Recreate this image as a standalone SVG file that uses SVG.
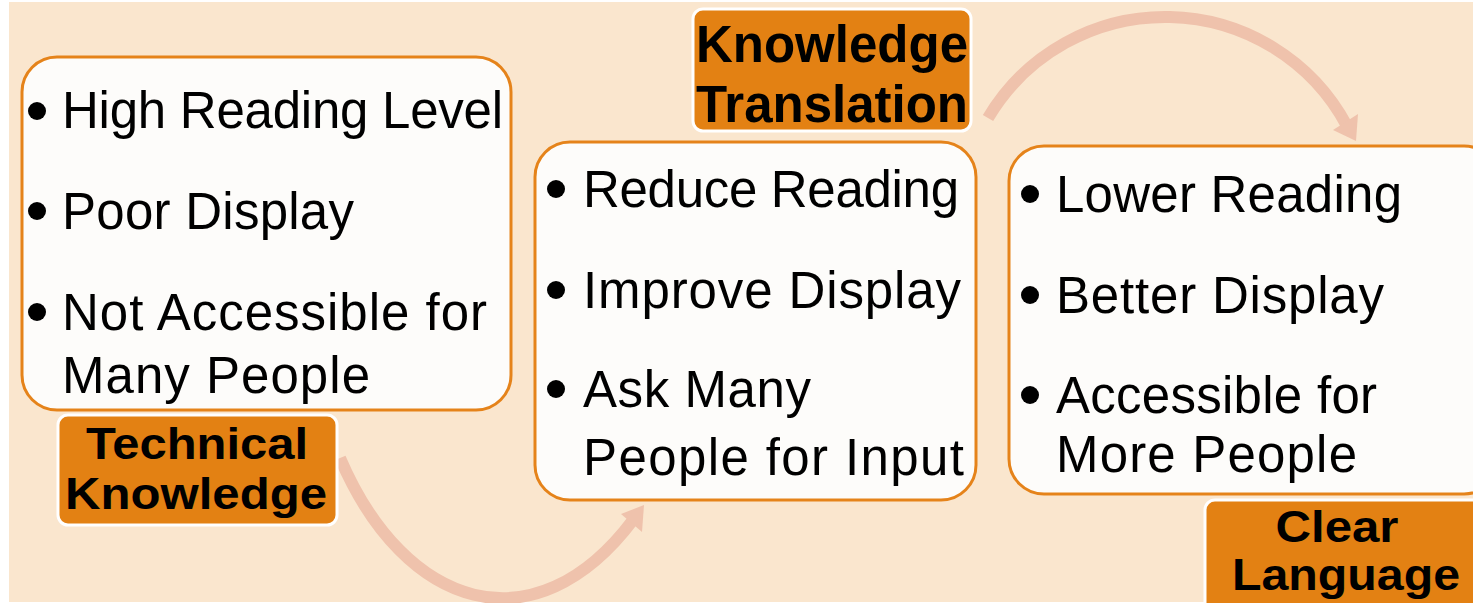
<svg xmlns="http://www.w3.org/2000/svg" width="1473" height="603" viewBox="0 0 1473 603">
  <style>
    .box { fill: #FDFCFA; stroke: #E5831A; stroke-width: 3; }
    .label { fill: #E38113; stroke: #FFFFFF; stroke-width: 3; }
    .body { font-family: "Liberation Sans", Arial, sans-serif; font-size: 51px; fill: #000000; }
    .head { font-family: "Liberation Sans", Arial, sans-serif; font-size: 51px; font-weight: bold; fill: #000000; text-anchor: middle; }
    .head-sm { font-size: 45px; }
    .bullet { fill: #000000; }
    .conn { fill: none; stroke: #EFC2AC; stroke-width: 12; }
    .head-tip { fill: #EFC2AC; }
  </style>
  <rect x="0" y="0" width="1473" height="603" fill="#FFFFFF"/>
  <rect x="9" y="2" width="1464" height="600" fill="#FAE6CE"/>

  <g id="connectors">
    <path class="conn" d="M340,458 C 405,610 535,650 633,520"/>
    <polygon class="head-tip" points="644,505 621,514 642,532"/>
    <path class="conn" d="M988,118 A 206 206 0 0 1 1347,126"/>
    <polygon class="head-tip" points="1356,141 1333,130 1358,114"/>
  </g>

  <g id="box-technical">
    <rect class="box" x="22" y="57" width="489" height="353" rx="35" ry="35"/>
    <circle class="bullet" cx="37" cy="111" r="9"/>
    <text class="body" x="62" y="128" textLength="441" lengthAdjust="spacing">High Reading Level</text>
    <circle class="bullet" cx="37" cy="211" r="9"/>
    <text class="body" x="62" y="229" textLength="292" lengthAdjust="spacing">Poor Display</text>
    <circle class="bullet" cx="37" cy="312" r="9"/>
    <text class="body" x="62" y="330" textLength="425" lengthAdjust="spacing">Not Accessible for</text>
    <text class="body" x="62" y="393" textLength="308" lengthAdjust="spacing">Many People</text>
  </g>

  <g id="label-technical">
    <rect class="label" x="58" y="415" width="279" height="110" rx="10" ry="10"/>
    <text class="head head-sm" x="197" y="459" textLength="222" lengthAdjust="spacingAndGlyphs">Technical</text>
    <text class="head head-sm" x="196" y="509" textLength="262" lengthAdjust="spacingAndGlyphs">Knowledge</text>
  </g>

  <g id="box-translation">
    <rect class="box" x="535" y="142" width="441" height="358" rx="35" ry="35"/>
    <circle class="bullet" cx="556" cy="189" r="9"/>
    <text class="body" x="583" y="207" textLength="376" lengthAdjust="spacing">Reduce Reading</text>
    <circle class="bullet" cx="556" cy="290" r="9"/>
    <text class="body" x="583" y="308" textLength="378" lengthAdjust="spacing">Improve Display</text>
    <circle class="bullet" cx="556" cy="389" r="9"/>
    <text class="body" x="583" y="407" textLength="228" lengthAdjust="spacing">Ask Many</text>
    <text class="body" x="583" y="475" textLength="381" lengthAdjust="spacing">People for Input</text>
  </g>

  <g id="label-translation">
    <rect class="label" x="693" y="9" width="278" height="122" rx="10" ry="10"/>
    <text class="head" x="832" y="62">Knowledge</text>
    <text class="head" x="832" y="122">Translation</text>
  </g>

  <g id="box-clear">
    <rect class="box" x="1009" y="146" width="490" height="348" rx="35" ry="35"/>
    <circle class="bullet" cx="1030" cy="194" r="9"/>
    <text class="body" x="1056" y="212" textLength="346" lengthAdjust="spacing">Lower Reading</text>
    <circle class="bullet" cx="1030" cy="295" r="9"/>
    <text class="body" x="1056" y="313" textLength="328" lengthAdjust="spacing">Better Display</text>
    <circle class="bullet" cx="1030" cy="395" r="9"/>
    <text class="body" x="1056" y="413" textLength="321" lengthAdjust="spacing">Accessible for</text>
    <text class="body" x="1056" y="472" textLength="301" lengthAdjust="spacing">More People</text>
  </g>

  <g id="label-clear">
    <rect class="label" x="1205" y="500" width="290" height="115" rx="10" ry="10"/>
    <text class="head head-sm" x="1337" y="542" textLength="123" lengthAdjust="spacingAndGlyphs">Clear</text>
    <text class="head head-sm" x="1346" y="590" textLength="228" lengthAdjust="spacingAndGlyphs">Language</text>
  </g>
</svg>
